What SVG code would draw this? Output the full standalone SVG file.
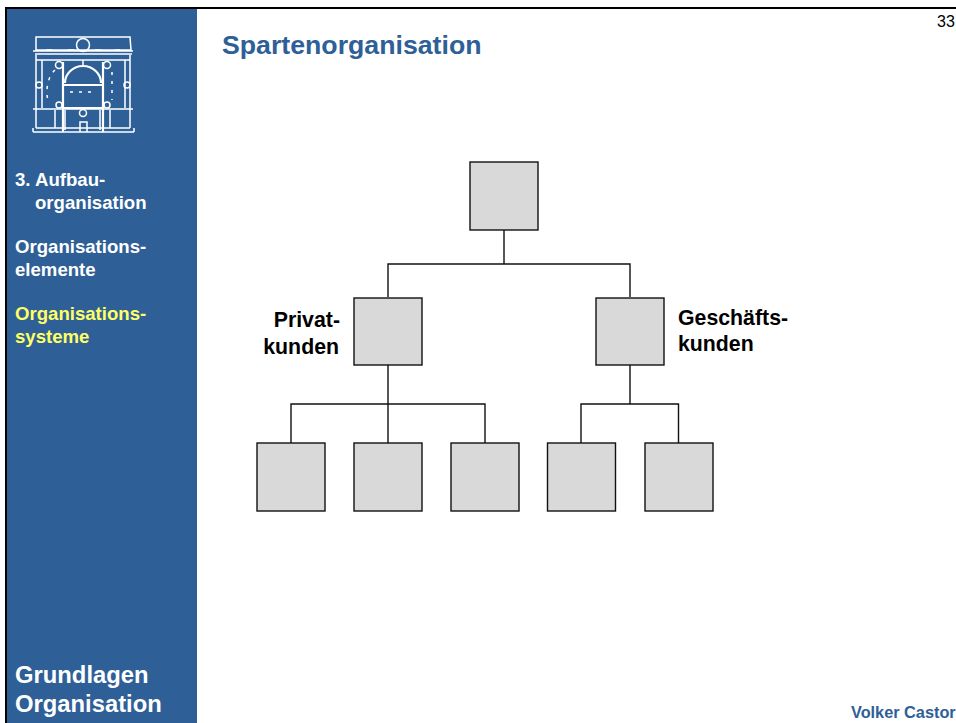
<svg xmlns="http://www.w3.org/2000/svg" width="956" height="723" viewBox="0 0 956 723">
<style>
text{font-family:"Liberation Sans",Arial,sans-serif;font-weight:700}
.side{font-size:18.6px;fill:#fff}
.y{fill:#ffff66}
.big{font-size:23.800px;fill:#fff}
.lab{font-size:21.300px;fill:#000}
.box{fill:#d9d9d9;stroke:#111;stroke-width:1.400}
.con{fill:none;stroke:#111;stroke-width:1.400}
.logo{fill:none;stroke:#fff;stroke-width:1.500}
.logo2{fill:none;stroke:#fff;stroke-width:2.200}
</style>
<rect width="956" height="723" fill="#fff"/>
<rect x="7" y="9" width="190" height="714" fill="#2e6097"/>
<rect x="5" y="7" width="951" height="2" fill="#000"/>
<rect x="5" y="7" width="2" height="716" fill="#000"/>
<g id="logo">
<path class="logo" d="M36 37H130L131 50H36ZM33 51H133M35 54H132M36 55V128M130 55V128M42 60V108M125 60V108M36 60H130M33 109H133M36 128H130M55 110V128M110 110V128M65 110V130M100 110V130"/>
<path class="logo" d="M33 132H134M33 128V132M134 128V132M46 50H52M68 50H74M95 50H101M115 50H120"/>
<circle class="logo" cx="83" cy="45" r="6.500"/>
<circle class="logo" cx="59" cy="65" r="3.500"/><circle class="logo" cx="107" cy="65" r="3.500"/>
<circle class="logo" cx="39" cy="85" r="3"/><circle class="logo" cx="127" cy="85" r="3"/>
<circle class="logo" cx="59" cy="105" r="3"/><circle class="logo" cx="107" cy="105" r="3"/>
<circle class="logo" cx="83" cy="113" r="3.500"/>
<path class="logo2" d="M65 83A18 17 0 0 1 101 83M63 85H103M63 62V132M103 62V132M64 108H102"/>
<path class="logo" d="M80 132V122H87V132M83 60V66"/>
<path class="logo" stroke-dasharray="3 6" d="M55 70C46 78 46 95 48 100M112 72V100M70 92H96"/>
</g>
<text x="222" y="54" fill="#2e6097" style="font-size:26.700px">Spartenorganisation</text>
<text x="937" y="27" style="font-size:16px;font-weight:400" fill="#000">33</text>
<g id="nav">
<text class="side" x="15" y="186">3. Aufbau-</text>
<text class="side" x="35" y="209">organisation</text>
<text class="side" x="15" y="253">Organisations-</text>
<text class="side" x="15" y="276">elemente</text>
<text class="side y" x="15" y="320">Organisations-</text>
<text class="side y" x="15" y="343">systeme</text>
</g>
<text class="big" x="15" y="683">Grundlagen</text>
<text class="big" x="15" y="712">Organisation</text>
<text x="851" y="718" fill="#2e6097" style="font-size:16.300px">Volker Castor</text>
<g id="connectors">
<path class="con" d="M504 230V264M388 297V264H630V297M388 365V443M291 443V404H485V443M630 365V404M581 443V404H678.500V443"/>
</g>
<g id="n-top"><rect class="box" x="470" y="162" width="68" height="68"/></g>
<g id="n-privat"><rect class="box" x="354" y="298" width="68" height="67"/></g>
<g id="n-geschaeft"><rect class="box" x="596" y="298" width="68" height="67"/></g>
<g id="n-a"><rect class="box" x="257" y="443" width="68" height="68"/></g>
<g id="n-b"><rect class="box" x="354" y="443" width="68" height="68"/></g>
<g id="n-c"><rect class="box" x="451" y="443" width="68" height="68"/></g>
<g id="n-d"><rect class="box" x="547.500" y="443" width="68" height="68"/></g>
<g id="n-e"><rect class="box" x="645" y="443" width="68" height="68"/></g>
<g id="labels">
<text class="lab" x="340" y="327" text-anchor="end">Privat-</text>
<text class="lab" x="339" y="354" text-anchor="end">kunden</text>
<text class="lab" x="678" y="325">Geschäfts-</text>
<text class="lab" x="678" y="351">kunden</text>
</g>
</svg>
